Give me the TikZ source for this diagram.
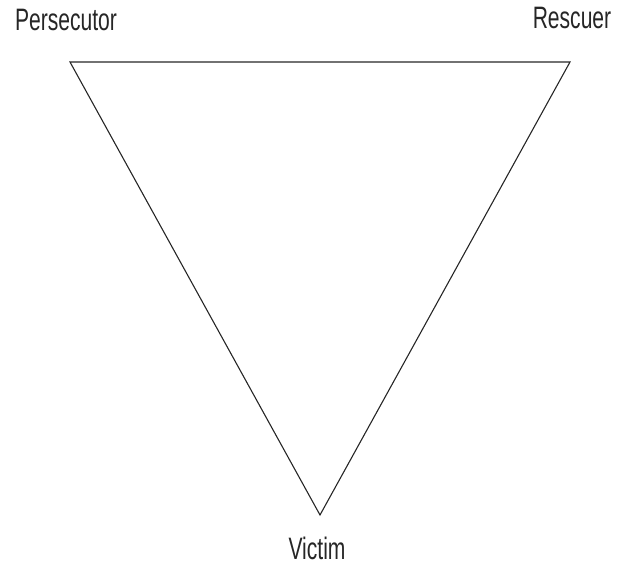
\documentclass[tikz,border=0pt]{standalone}
\usepackage{fontspec}
\setmainfont[FakeStretch=0.68]{Liberation Sans}
\begin{document}
\begin{tikzpicture}[x=1pt,y=1pt,
  lbl/.style={font=\fontsize{31}{32}\selectfont, inner sep=0pt, anchor=base, text=black!85},
  edge/.style={draw=black!85, line width=1.1pt, line join=miter}]
\useasboundingbox (0,0) rectangle (619,566);
\coordinate (P) at (70,504);
\coordinate (R) at (570,504);
\coordinate (V) at (320,51);
\node[lbl] (lp) at (66,535) {Persecutor};
\node[lbl] (lr) at (572,537) {Rescuer};
\node[lbl] (lv) at (317,7) {Victim};
\draw[edge] (P) -- (R) -- (V) -- cycle;
\end{tikzpicture}
\end{document}
